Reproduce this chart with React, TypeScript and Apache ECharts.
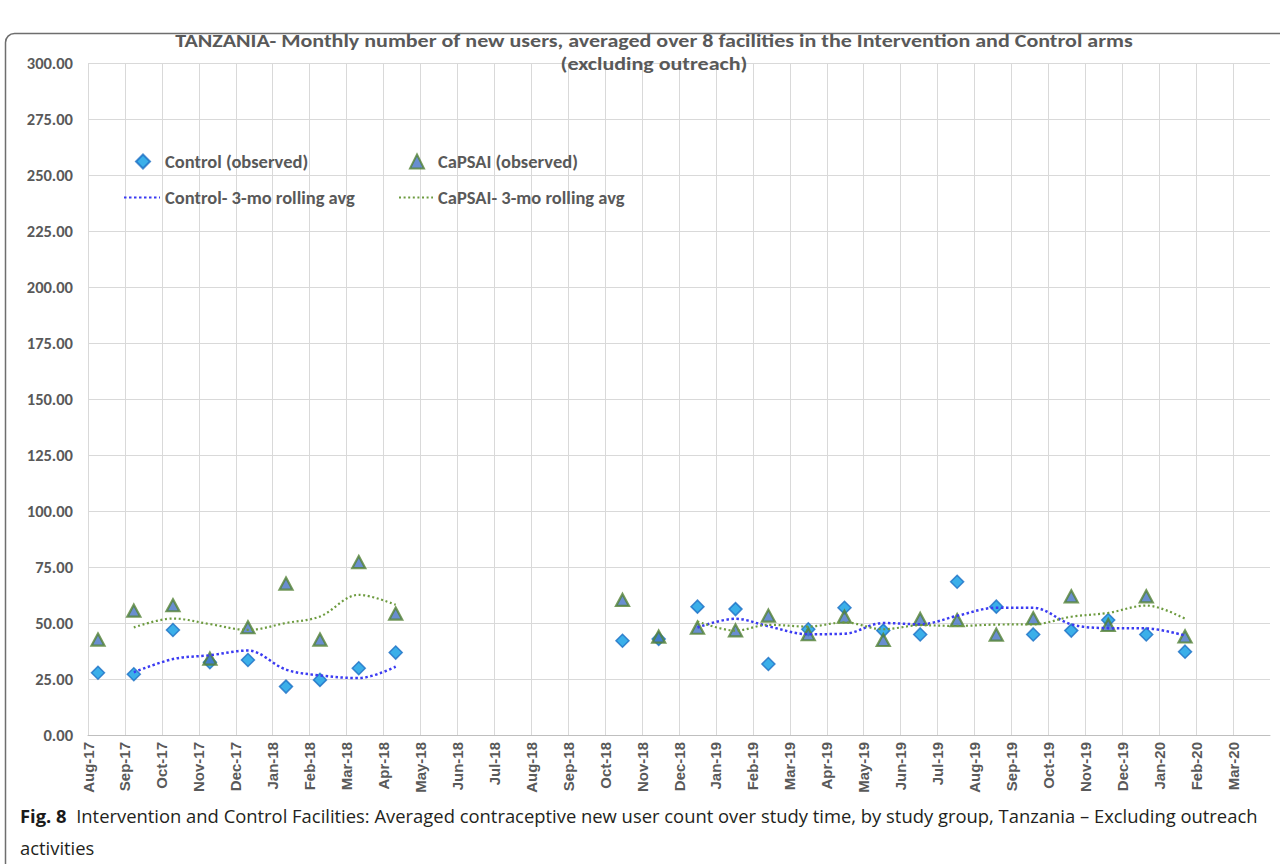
import React, { useEffect, useRef } from 'react';
import * as echarts from 'echarts';

// Month tick labels (index 0 = Aug-17)
const monthLabels = [
  'Aug-17', 'Sep-17', 'Oct-17', 'Nov-17', 'Dec-17', 'Jan-18', 'Feb-18', 'Mar-18',
  'Apr-18', 'May-18', 'Jun-18', 'Jul-18', 'Aug-18', 'Sep-18', 'Oct-18', 'Nov-18',
  'Dec-18', 'Jan-19', 'Feb-19', 'Mar-19', 'Apr-19', 'May-19', 'Jun-19', 'Jul-19',
  'Aug-19', 'Sep-19', 'Oct-19', 'Nov-19', 'Dec-19', 'Jan-20', 'Feb-20', 'Mar-20',
];

const pointMonths = [
  0.27, 1.24, 2.3, 3.3, 4.33, 5.36, 6.28, 7.33, 8.33,
  14.47, 15.45, 16.5, 17.53, 18.42, 19.5, 20.48, 21.53, 22.53, 23.53, 24.59, 25.59, 26.62, 27.62, 28.65, 29.7,
];

const controlObserved = [
  27.8, 27.1, 46.9, 32.5, 33.5, 21.6, 24.6, 29.8, 36.8,
  42.1, 42.9, 57.3, 56.2, 31.7, 47.2, 56.8, 46.6, 44.9, 68.4, 57.3, 44.9, 46.6, 51.3, 44.9, 37.2,
];

const capsaiObserved = [
  42.6, 55.5, 57.9, 34.1, 48.1, 67.6, 42.6, 77.2, 54.2,
  60.3, 43.9, 47.9, 46.7, 53.3, 45.0, 52.8, 42.4, 51.8, 51.3, 44.8, 52.1, 61.9, 49.1, 61.9, 44.0,
];

const controlRolling = [
  null, 28.0, 33.9, 35.6, 37.7, 29.2, 26.6, 25.4, 30.5,
  null, null, 48.0, 51.9, 48.5, 45.0, 45.2, 50.0, 49.4, 53.2, 56.8, 56.8, 49.4, 47.7, 47.6, 44.4,
];

const capsaiRolling = [
  null, 48.0, 52.0, 49.5, 46.9, 50.0, 52.9, 62.6, 58.1,
  null, null, 50.7, 46.6, 49.2, 48.4, 50.3, 47.2, 49.0, 48.7, 49.3, 49.4, 52.8, 54.5, 57.8, 51.9,
];

const yTicks = { min: 0, max: 300, interval: 25 };

const seriesNames = [
  'Control (observed)',
  'CaPSAI (observed)',
  'Control- 3-mo rolling avg',
  'CaPSAI- 3-mo rolling avg',
];

const titleLine1 =
  'TANZANIA- Monthly number of new users, averaged over 8 facilities in the Intervention and Control arms';
const titleLine2 = '(excluding outreach)';
const captionLine1 =
  'Intervention and Control Facilities: Averaged contraceptive new user count over study time, by study group, Tanzania \u2013 Excluding outreach';
const captionLine2 = 'activities';

const GRAY = '#595959';
const SANS = 'Carlito, Lato, "Open Sans", sans-serif';
const CAPTION_FONT = '"Open Sans", "Noto Sans", sans-serif';

function pairs(vals: (number | null)[]) {
  return pointMonths.map((x, i) => [x, vals[i] == null ? '-' : vals[i]]);
}

export default function App() {
  const ref = useRef<HTMLDivElement>(null);

  useEffect(() => {
    if (!ref.current) return;
    const chart = echarts.init(ref.current, undefined, { renderer: 'svg' });

    const legendText = { color: GRAY, fontSize: 18.5, fontWeight: 'bold' as const, fontFamily: SANS };
    const titleStyle = {
      fill: GRAY,
      fontSize: 19,
      fontWeight: 'bold' as const,
      fontFamily: SANS,
      textAlign: 'center' as const,
      textVerticalAlign: 'middle' as const,
    };

    chart.setOption({
      animation: false,
      backgroundColor: '#ffffff',
      legend: [
        {
          data: [seriesNames[0]],
          left: 135,
          top: 152,
          padding: 0,
          itemWidth: 14,
          itemHeight: 14,
          textStyle: { ...legendText, padding: [0, 0, 0, 10] },
        },
        {
          data: [seriesNames[1]],
          left: 409,
          top: 152,
          padding: 0,
          itemWidth: 14,
          itemHeight: 14,
          textStyle: { ...legendText, padding: [0, 0, 0, 9] },
        },
        {
          data: [seriesNames[2]],
          left: 123,
          top: 188,
          padding: 0,
          itemWidth: 36,
          itemHeight: 14,
          itemStyle: { opacity: 0 },
          textStyle: legendText,
        },
        {
          data: [seriesNames[3]],
          left: 398,
          top: 188,
          padding: 0,
          itemWidth: 34,
          itemHeight: 14,
          itemStyle: { opacity: 0 },
          textStyle: legendText,
        },
      ],
      grid: { left: 88, right: 10, top: 63, bottom: 129, containLabel: false },
      xAxis: {
        type: 'value',
        min: 0,
        max: 32,
        interval: 1,
        axisLine: { show: true, lineStyle: { color: '#bfbfbf', width: 1 } },
        axisTick: { show: false },
        axisLabel: {
          rotate: 90,
          margin: 7,
          color: GRAY,
          fontSize: 15,
          fontWeight: 'bold',
          fontFamily: '"Liberation Sans", Arial, sans-serif',
          showMaxLabel: false,
          formatter: (v: number) => monthLabels[Math.round(v)] ?? '',
        },
        splitLine: { show: true, showMaxLine: false, lineStyle: { color: '#d9d9d9', width: 1 } },
      },
      yAxis: {
        type: 'value',
        min: yTicks.min,
        max: yTicks.max,
        interval: yTicks.interval,
        axisLine: { show: false },
        axisTick: { show: false },
        axisLabel: {
          margin: 15,
          color: GRAY,
          fontSize: 16.5,
          fontWeight: 'bold',
          fontFamily: SANS,
          formatter: (v: number) => v.toFixed(2),
        },
        splitLine: { show: true, lineStyle: { color: '#d9d9d9', width: 1 } },
      },
      series: [
        {
          name: seriesNames[0],
          type: 'scatter',
          symbol: 'diamond',
          symbolSize: 13,
          itemStyle: { color: '#0a9be3', borderColor: '#1d6fc4', borderWidth: 1.5 },
          data: pairs(controlObserved),
          z: 3,
        },
        {
          name: seriesNames[1],
          type: 'scatter',
          symbol: 'triangle',
          symbolSize: [13, 12],
          itemStyle: { color: '#4472c4', borderColor: '#548235', borderWidth: 2.2 },
          data: pairs(capsaiObserved),
          z: 4,
        },
        {
          name: seriesNames[2],
          type: 'line',
          symbol: 'none',
          smooth: 0.35,
          connectNulls: false,
          lineStyle: { color: '#3b3bf2', width: 2.5, type: [2.5, 2.5], cap: 'butt' },
          itemStyle: { color: '#3b3bf2' },
          data: pairs(controlRolling),
          z: 5,
        },
        {
          name: seriesNames[3],
          type: 'line',
          symbol: 'none',
          smooth: 0.35,
          connectNulls: false,
          lineStyle: { color: '#6d9b3f', width: 2.2, type: [2, 2.6], cap: 'butt' },
          itemStyle: { color: '#6d9b3f' },
          data: pairs(capsaiRolling),
          z: 5,
        },
      ],
      graphic: [
        {
          type: 'rect',
          silent: true,
          shape: { x: 5.5, y: 33.5, width: 1320, height: 900, r: 9 },
          style: { fill: 'none', stroke: '#6e6e6e', lineWidth: 1.5 },
          z: -10,
        },
        {
          type: 'text',
          x: 654,
          y: 40.5,
          scaleX: 1.16,
          silent: true,
          style: { ...titleStyle, text: titleLine1 },
          z: 10,
        },
        {
          type: 'text',
          x: 654,
          y: 63.5,
          scaleX: 1.16,
          silent: true,
          style: { ...titleStyle, text: titleLine2 },
          z: 10,
        },
        {
          type: 'text',
          left: 20,
          top: 806,
          style: {
            text: '{b|Fig. 8}  ' + captionLine1,
            fontFamily: CAPTION_FONT,
            fontSize: 18.4,
            fill: '#231f20',
            rich: {
              b: {
                fontFamily: CAPTION_FONT,
                fontSize: 18.4,
                fontWeight: 'bold',
                fill: '#1a1a1a',
              },
            },
          },
        },
        {
          type: 'text',
          left: 20,
          top: 838,
          style: {
            text: captionLine2,
            fontFamily: CAPTION_FONT,
            fontSize: 18.4,
            fill: '#231f20',
          },
        },
      ],
    });

    return () => chart.dispose();
  }, []);

  return (
    <div
      ref={ref}
      style={{ position: 'absolute', left: 0, top: 0, width: 1280, height: 864, background: '#fff' }}
    />
  );
}
